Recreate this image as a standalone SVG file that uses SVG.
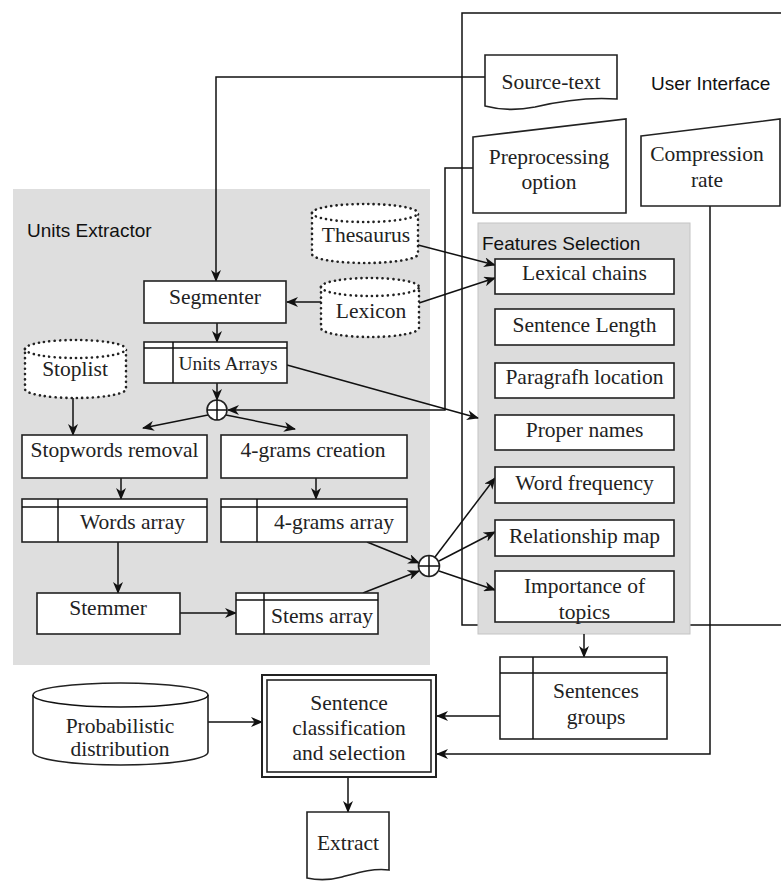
<svg xmlns="http://www.w3.org/2000/svg" width="781" height="882" viewBox="0 0 781 882">
<defs>
<marker id="ah" markerUnits="userSpaceOnUse" markerWidth="12" markerHeight="10" viewBox="0 0 12 10" refX="11" refY="5" orient="auto">
<path d="M0,0 L12,5 L0,10 L3.5,5 Z" fill="#111"/>
</marker>
</defs>
<style>
.box{fill:#fff;stroke:#222;stroke-width:1.6}
.dot{fill:#fff;stroke:#222;stroke-width:2.6;stroke-dasharray:0.1 5.2;stroke-linecap:round}
.ln{fill:none;stroke:#111;stroke-width:1.5}
.ar{fill:none;stroke:#111;stroke-width:1.5;marker-end:url(#ah)}
.t{font-size:21.5px;fill:#222;text-anchor:middle}
.s{font-family:'Liberation Sans',Arial,Helvetica,sans-serif;font-size:19px;fill:#111}
</style>
<rect width="781" height="882" fill="#fff"/>
<g id="units-extractor">
<rect x="13" y="189" width="417" height="476" fill="#dedede"/>
<text class="s" x="27" y="237">Units Extractor</text>
</g>
<g id="user-interface">
<path d="M790,13 H462 V625 H790" class="ln"/>
<text class="s" x="651" y="90">User Interface</text>
</g>
<g id="features-selection">
<rect x="478" y="223" width="212" height="411" fill="#dcdcdc" stroke="#c4c4c4" stroke-width="1"/>
<text class="s" x="482" y="250">Features Selection</text>
</g>
<g id="connectors">
<path class="ar" d="M485,77 H216 V281"/>
<path class="ar" d="M321,302 H287"/>
<path class="ar" d="M217,323 V342"/>
<path class="ar" d="M217,383 V400"/>
<path class="ar" d="M208,415 L143,428"/>
<path class="ar" d="M226,415 L295,429"/>
<path class="ar" d="M73,398 V435"/>
<path class="ar" d="M473,168 H445 V410 H228"/>
<path class="ar" d="M287,365 L478,418"/>
<path class="ar" d="M418,245 L495,265"/>
<path class="ar" d="M419,303 L495,278"/>
<path class="ar" d="M121,478 V499"/>
<path class="ar" d="M316,478 V499"/>
<path class="ar" d="M118,542 V593"/>
<path class="ar" d="M180,613 H236"/>
<path class="ar" d="M367,542 L419,563"/>
<path class="ar" d="M363,593 L419,571"/>
<path class="ar" d="M435,557 L495,478"/>
<path class="ar" d="M439,561 L495,532"/>
<path class="ar" d="M439,571 L495,590"/>
<path class="ar" d="M584,634 V657"/>
<path class="ar" d="M500,716 H437"/>
<path class="ar" d="M710,206 V754 H437"/>
<path class="ar" d="M208,722 H262"/>
<path class="ar" d="M348,777 V812"/>
</g>
<g font-family="Liberation Serif, Times New Roman, serif">
<g id="source-text">
<path class="box" d="M485,55 H617 V99 C590,97 560,101 535,107 C515,111 500,110 485,106 Z"/>
<text class="t" x="551" y="89">Source-text</text>
</g>
<g id="preprocessing-option">
<path class="box" d="M473,137 L626,119 V213 H473 Z"/>
<text class="t" x="549" y="164">Preprocessing</text>
<text class="t" x="549" y="189">option</text>
</g>
<g id="compression-rate">
<path class="box" d="M641,136 L780,119 V206 H641 Z"/>
<text class="t" x="707" y="161">Compression</text>
<text class="t" x="707" y="187">rate</text>
</g>
<g id="thesaurus">
<path class="dot" d="M312,213 A53,9 0 0 1 418,213 V254 A53,9 0 0 1 312,254 Z"/>
<path class="dot" d="M312,213 A53,9 0 0 0 418,213"/>
<text class="t" x="366" y="242">Thesaurus</text>
</g>
<g id="lexicon">
<path class="dot" d="M321,287 A49,9 0 0 1 419,287 V328 A49,9 0 0 1 321,328 Z"/>
<path class="dot" d="M321,287 A49,9 0 0 0 419,287"/>
<text class="t" x="371" y="318">Lexicon</text>
</g>
<g id="stoplist">
<path class="dot" d="M25,349 A50.5,9 0 0 1 126,349 V389 A50.5,9 0 0 1 25,389 Z"/>
<path class="dot" d="M25,349 A50.5,9 0 0 0 126,349"/>
<text class="t" x="75" y="376">Stoplist</text>
</g>
<g id="segmenter">
<rect class="box" x="144" y="281" width="142" height="42"/>
<text class="t" x="215" y="304">Segmenter</text>
</g>
<g id="units-arrays">
<rect class="box" x="144" y="342" width="143" height="41"/>
<path class="ln" d="M144,348 H287 M173,342 V383"/>
<text class="t" x="228" y="370" style="font-size:19.5px">Units Arrays</text>
</g>
<g id="merge-1">
<circle cx="217" cy="410" r="10" class="box"/>
<path class="ln" d="M207,410 H227 M217,400 V420"/>
</g>
<g id="stopwords-removal">
<rect class="box" x="22" y="435" width="185" height="43"/>
<text class="t" x="114.5" y="457">Stopwords removal</text>
</g>
<g id="grams-creation">
<rect class="box" x="221" y="435" width="186" height="43"/>
<text class="t" x="313" y="457">4-grams creation</text>
</g>
<g id="words-array">
<rect class="box" x="22" y="499" width="185" height="43"/>
<path class="ln" d="M22,507 H207 M58,499 V542"/>
<text class="t" x="132.5" y="529">Words array</text>
</g>
<g id="grams-array">
<rect class="box" x="221" y="499" width="186" height="43"/>
<path class="ln" d="M221,507 H407 M257,499 V542"/>
<text class="t" x="334" y="529">4-grams array</text>
</g>
<g id="stemmer">
<rect class="box" x="37" y="593" width="143" height="41"/>
<text class="t" x="108" y="615">Stemmer</text>
</g>
<g id="stems-array">
<rect class="box" x="236" y="593" width="142" height="41"/>
<path class="ln" d="M236,600 H378 M264,593 V634"/>
<text class="t" x="322" y="623">Stems array</text>
</g>
<g id="merge-2">
<circle cx="429" cy="566" r="10.5" class="box"/>
<path class="ln" d="M418.5,566 H439.5 M429,555.5 V576.5"/>
</g>
<g id="lexical-chains">
<rect class="box" x="495" y="259" width="179" height="35"/>
<text class="t" x="584.5" y="280">Lexical chains</text>
</g>
<g id="sentence-length">
<rect class="box" x="495" y="309" width="179" height="36"/>
<text class="t" x="584.5" y="332">Sentence Length</text>
</g>
<g id="paragrafh-location">
<rect class="box" x="495" y="363" width="179" height="35"/>
<text class="t" x="584.5" y="384">Paragrafh location</text>
</g>
<g id="proper-names">
<rect class="box" x="495" y="415" width="179" height="35"/>
<text class="t" x="584.5" y="437">Proper names</text>
</g>
<g id="word-frequency">
<rect class="box" x="495" y="467" width="179" height="36"/>
<text class="t" x="584.5" y="490">Word frequency</text>
</g>
<g id="relationship-map">
<rect class="box" x="495" y="520" width="179" height="36"/>
<text class="t" x="584.5" y="543">Relationship map</text>
</g>
<g id="importance-of-topics">
<rect class="box" x="495" y="571" width="179" height="51"/>
<text class="t" x="584.5" y="593">Importance of</text>
<text class="t" x="584.5" y="619">topics</text>
</g>
<g id="sentences-groups">
<rect class="box" x="500" y="657" width="167" height="82"/>
<path class="ln" d="M500,673 H667 M533,657 V739"/>
<text class="t" x="596" y="698">Sentences</text>
<text class="t" x="596" y="724">groups</text>
</g>
<g id="probabilistic-distribution">
<path class="box" d="M33,695 A87.5,12 0 0 1 208,695 V752 A87.5,13 0 0 1 33,752 Z"/>
<path class="ln" d="M33,695 A87.5,12 0 0 0 208,695"/>
<text class="t" x="120" y="733">Probabilistic</text>
<text class="t" x="120" y="756">distribution</text>
</g>
<g id="sentence-classification">
<rect x="262" y="675" width="174" height="102" fill="#fff" stroke="#222" stroke-width="2"/>
<rect x="267" y="680" width="164" height="92" fill="none" stroke="#222" stroke-width="1.6"/>
<text class="t" x="349" y="710">Sentence</text>
<text class="t" x="349" y="735">classification</text>
<text class="t" x="349" y="760">and selection</text>
</g>
<g id="extract">
<path class="box" d="M307,812 H389 V870 C372,868 357,873 342,877 C327,881 316,880 307,878 Z"/>
<text class="t" x="348" y="850">Extract</text>
</g>
</g>
</svg>
